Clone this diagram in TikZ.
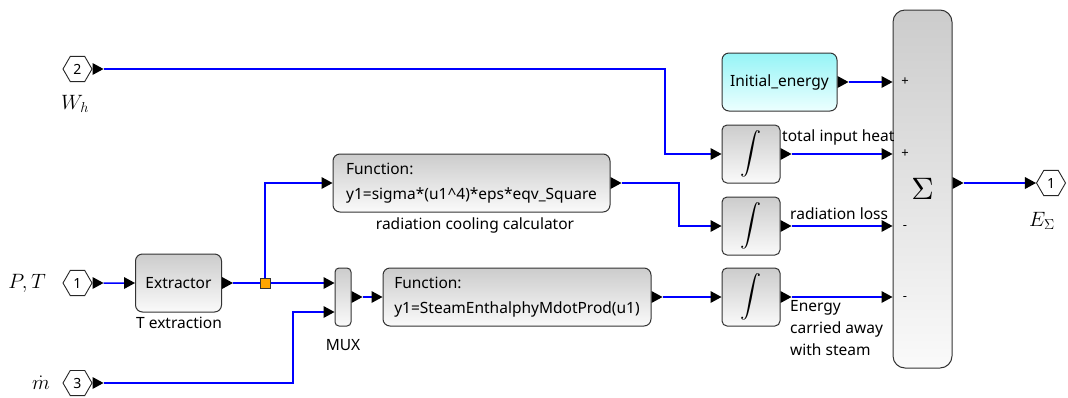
\documentclass[tikz,border=0pt]{standalone}
\usepackage{fontspec}
\setmainfont{Noto Sans}
\usetikzlibrary{arrows.meta,shapes.geometric,calc}
\definecolor{wireblue}{RGB}{0,0,255}
\definecolor{blktop}{RGB}{204,204,204}
\definecolor{blkbot}{RGB}{250,250,250}
\definecolor{cyantop}{RGB}{150,244,246}
\definecolor{cyanbot}{RGB}{236,255,255}
\definecolor{splitorange}{RGB}{255,165,0}
\newcommand\txt{\fontsize{15.5}{25}\selectfont}
\newcommand\mth{\fontsize{20}{24}\selectfont}
\newcommand\intsym{{\fontsize{10}{12}\selectfont\scalebox{2.1}{$\displaystyle\int$}}}
\begin{document}
\begin{tikzpicture}[x=1pt,y=-1pt,
  blk/.style={draw=black!80, line width=1pt, rounded corners=7pt,
    top color=blktop, bottom color=blkbot, inner sep=0pt, font=\txt},
  cyanblk/.style={blk, top color=cyantop, bottom color=cyanbot},
  port/.style={draw=black!85, line width=0.9pt, regular polygon, regular polygon sides=6,
    minimum size=29pt, inner sep=0pt, font=\fontsize{14}{14}\selectfont},
  wire/.style={draw=wireblue, line width=1.5pt},
  pin/.style={-{Triangle[length=11pt,width=12pt,color=black,line width=0pt]}},
  pout/.style={{Triangle[reversed,length=11pt,width=12pt,color=black,line width=0pt]}-},
  pio/.style={{Triangle[reversed,length=11pt,width=12pt,color=black,line width=0pt]}-{Triangle[length=11pt,width=12pt,color=black,line width=0pt]}},
  lab/.style={font=\txt, inner sep=0pt},
  sign/.style={font=\fontsize{13}{13}\selectfont, inner sep=0pt}
]
\useasboundingbox (0,0) rectangle (1068,397);

% ports
\node[port] (in2) at (77.5,69) {2};
\node[port] (in1) at (77.5,283) {1};
\node[port] (in3) at (77.5,383) {3};
\node[port] (out1) at (1051,183) {1};
\node[inner sep=0pt] at (75,104) {\mth$W_h$};
\node[inner sep=0pt, anchor=east] at (46,283) {\mth$P,T$};
\node[inner sep=0pt, anchor=east] at (50,383) {\mth$\dot m$};
\node[inner sep=0pt] at (1042,221) {\mth$E_\Sigma$};

% blocks
\node[blk, minimum width=86pt, minimum height=58pt] (ext) at (178.5,283) {Extractor};
\node[lab] at (179,323) {T extraction};
\node[blk, minimum width=277pt, minimum height=58pt, align=left] (f1) at (471.5,183)
  {Function:\\y1=sigma*(u1\textasciicircum 4)*eps*eqv\_Square};
\node[lab] at (475,225) {radiation cooling calculator};
\node[blk, rounded corners=4pt, minimum width=16pt, minimum height=58pt] (mux) at (343,297) {};
\node[lab] at (343,345) {MUX};
\node[blk, minimum width=268pt, minimum height=58pt, align=left] (f2) at (517,297)
  {Function:\\y1=SteamEnthalphyMdotProd(u1)};
\node[cyanblk, minimum width=115pt, minimum height=58pt] (ie) at (779.5,82) {Initial\_energy};
\foreach \n/\y in {int1/154, int2/226, int3/297}{
  \node[blk, rounded corners=5pt, minimum width=58pt, minimum height=58pt] (\n) at (751,\y) {\intsym};
}
\node[blk, rounded corners=12pt, minimum width=59pt, minimum height=358pt] (sum) at (922.5,189)
  {\fontsize{10}{12}\selectfont\scalebox{3.1}{$\Sigma$}};

% sign marks
\node[sign] at (905,82) {+};
\node[sign] at (905,154) {+};
\node[sign] at (905,227) {-};
\node[sign] at (905,298) {-};

% signal labels
\node[lab, anchor=west] at (782,137) {total input heat};
\node[lab, anchor=west] at (790,214) {radiation loss};
\node[lab, anchor=north west, align=left, font=\fontsize{15.5}{22}\selectfont] at (790,300)
  {Energy\\carried away\\with steam};

% bend points
\coordinate (k1) at (665,154);
\coordinate (k2) at (293,312);
\coordinate (k3) at (679,226);
\coordinate (m2) at (mux.west |- k2);
\coordinate (split) at (265,283);

% wires
\draw[wire,pio] (in2.east) -| (k1) -- (int1.west);
\draw[wire,pio] (in1.east) -- (ext.west);
\draw[wire,pout] (ext.east) -- (split);
\draw[wire,pin] (split) |- (f1.west);
\draw[wire,pin] (split) -- (split -| mux.west);
\draw[wire,pio] (in3.east) -| (k2) -- (m2);
\draw[wire,pio] (mux.east) -- (f2.west);
\draw[wire,pio] (f1.east) -| (k3) -- (int2.west);
\draw[wire,pio] (f2.east) -- (int3.west);
\draw[wire,pio] (ie.east) -- (sum.west |- ie.east);
\draw[wire,pio] (int1.east) -- (sum.west |- int1.east);
\draw[wire,pio] (int2.east) -- (sum.west |- int2.east);
\draw[wire,pio] (int3.east) -- (sum.west |- int3.east);
\draw[wire,pio] (sum.east |- out1.west) -- (out1.west);

% split point
\node[draw=black!80, line width=0.8pt, fill=splitorange, minimum size=10pt, inner sep=0pt] at (split) {};
\end{tikzpicture}
\end{document}
